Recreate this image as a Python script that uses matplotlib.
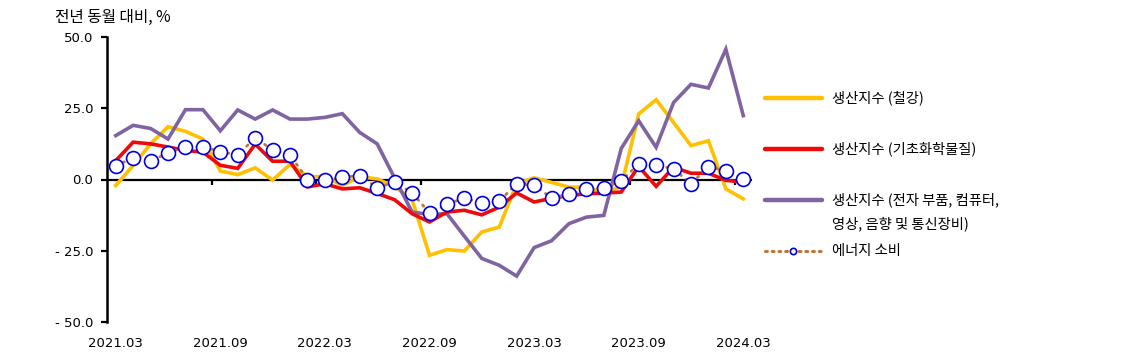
import numpy as np
import matplotlib.pyplot as plt
from matplotlib.lines import Line2D

plt.rcParams['font.family'] = ['Noto Sans CJK KR', 'DejaVu Sans']

# monthly, 2021.03 .. 2024.03 (YoY %)
months = ["2021.03", "2021.04", "2021.05", "2021.06", "2021.07", "2021.08",
          "2021.09", "2021.10", "2021.11", "2021.12", "2022.01", "2022.02",
          "2022.03", "2022.04", "2022.05", "2022.06", "2022.07", "2022.08",
          "2022.09", "2022.10", "2022.11", "2022.12", "2023.01", "2023.02",
          "2023.03", "2023.04", "2023.05", "2023.06", "2023.07", "2023.08",
          "2023.09", "2023.10", "2023.11", "2023.12", "2024.01", "2024.02",
          "2024.03"]

steel = [-2.1, 4.9, 12.5, 18.5, 16.9, 14.2, 3.0, 1.7, 4.1, -0.2, 5.3, 1.0,
         1.0, -2.1, 1.0, 0.2, -2.5, -7.0, -26.6, -24.6, -25.1, -18.4, -16.7,
         -1.5, 0.6, -1.0, -2.7, -2.7, -4.7, -2.5, 23.0, 28.0, 20.0, 11.9,
         13.6, -3.3, -6.8]

chem = [6.6, 13.1, 12.5, 11.4, 10.2, 9.6, 5.0, 3.9, 12.4, 6.4, 6.4, -2.6,
        -1.5, -3.3, -2.9, -4.9, -7.1, -12.0, -14.9, -11.4, -10.8, -12.4,
        -9.7, -4.7, -7.9, -6.6, -5.6, -5.0, -4.8, -4.4, 4.6, -2.4, 4.3, 2.2,
        2.2, -0.3, -0.9]

elec = [15.4, 19.0, 17.9, 14.2, 24.5, 24.5, 17.1, 24.4, 21.2, 24.4, 21.2,
        21.2, 21.8, 23.1, 16.5, 12.5, 0.5, -11.4, -12.3, -12.0, -19.9, -27.7,
        -30.1, -33.9, -23.9, -21.5, -15.5, -13.2, -12.6, 10.9, 20.6, 11.3,
        27.0, 33.4, 32.1, 45.7, 22.4]

energy = [4.9, 7.5, 6.6, 9.2, 11.5, 11.5, 9.8, 8.6, 14.6, 10.4, 8.6, 0.0,
          0.0, 0.8, 1.4, -2.9, -0.9, -4.7, -11.7, -8.7, -6.5, -8.2, -7.6,
          -1.5, -2.1, -6.4, -5.2, -3.5, -2.9, -0.5, 5.5, 5.1, 3.7, -1.5, 4.5,
          3.1, 0.2]

labels = ["생산지수 (철강)", "생산지수 (기초화학물질)",
          "생산지수 (전자 부품, 컴퓨터,\n영상, 음향 및 통신장비)", "에너지 소비"]

C_STEEL = "#FFC000"
C_CHEM = "#EE0A0A"
C_ELEC = "#8064A2"
C_ENERGY = "#C0763A"
C_MARK = "#0000E0"

W, H = 1139, 360
fig = plt.figure(figsize=(W / 100, H / 100), dpi=100)
ax = fig.add_axes([107 / W, (H - 322) / H, (752 - 107) / W, (322 - 37) / H])

x = np.arange(len(months))
ax.plot(x, steel, color=C_STEEL, lw=2.6, solid_joinstyle='miter', zorder=3)
ax.plot(x, chem, color=C_CHEM, lw=2.6, solid_joinstyle='miter', zorder=4)
ax.plot(x, elec, color=C_ELEC, lw=2.6, solid_joinstyle='miter', zorder=3)
ax.plot(x, energy, color=C_ENERGY, lw=2.0, ls=(0, (0.6, 2.2)),
        dash_capstyle='round', zorder=5)
ax.plot(x, energy, ls='none', marker='o', ms=10, mfc='white',
        mec=C_MARK, mew=1.2, zorder=6)

# zero line with category-boundary ticks every 6 months
ax.axhline(0, color='black', lw=1.6, zorder=2)
for xt in np.arange(5.5, len(months), 6):
    ax.vlines(xt, -1.8, 0, color='black', lw=1.6, zorder=2)

ax.set_xlim(-0.5, len(months) - 0.5)
ax.set_ylim(-50, 50)
ax.set_yticks([50, 25, 0, -25, -50])
ax.set_yticklabels(["50.0", "25.0", "0.0", "- 25.0", "- 50.0"],
                   fontsize=9.5, family='DejaVu Sans')
ax.set_xticks(x[::6])
ax.set_xticklabels(months[::6], fontsize=9.5, family='DejaVu Sans')
ax.tick_params(axis='x', length=0, pad=11)
ax.tick_params(axis='y', length=4, width=1.6, pad=6)
for s in ['top', 'right', 'bottom']:
    ax.spines[s].set_visible(False)
ax.spines['left'].set_linewidth(1.8)

fig.text(55 / W, 1 - 17 / H, "전년 동월 대비, %", fontsize=11.3,
         va='center', ha='left')


# legend, drawn by hand at the right of the plot (pixel positions)
def fx(px):
    return px / W


def fy(py):
    return 1 - py / H


leg = [(98, C_STEEL, '-'), (149, C_CHEM, '-'), (200, C_ELEC, '-'),
       (251, C_ENERGY, ':')]
for (py, col, style), lab in zip(leg, labels):
    if style == '-':
        fig.add_artist(Line2D([fx(765), fx(822)], [fy(py), fy(py)],
                              color=col, lw=3.2, solid_capstyle='round',
                              transform=fig.transFigure))
    else:
        fig.add_artist(Line2D([fx(765), fx(822)], [fy(py), fy(py)],
                              color=col, lw=2.2, ls=(0, (0.6, 1.6)),
                              dash_capstyle='round',
                              transform=fig.transFigure))
        fig.add_artist(Line2D([fx(793)], [fy(py)], ls='none', marker='o',
                              ms=4.5, mfc='white', mec=C_MARK, mew=1.2,
                              transform=fig.transFigure))
    lines = lab.split('\n')
    for k, line in enumerate(lines):
        fig.text(fx(832), fy(py + 24 * k), line, fontsize=10.3,
                 va='center', ha='left')

fig.savefig("out.png", dpi=100)
